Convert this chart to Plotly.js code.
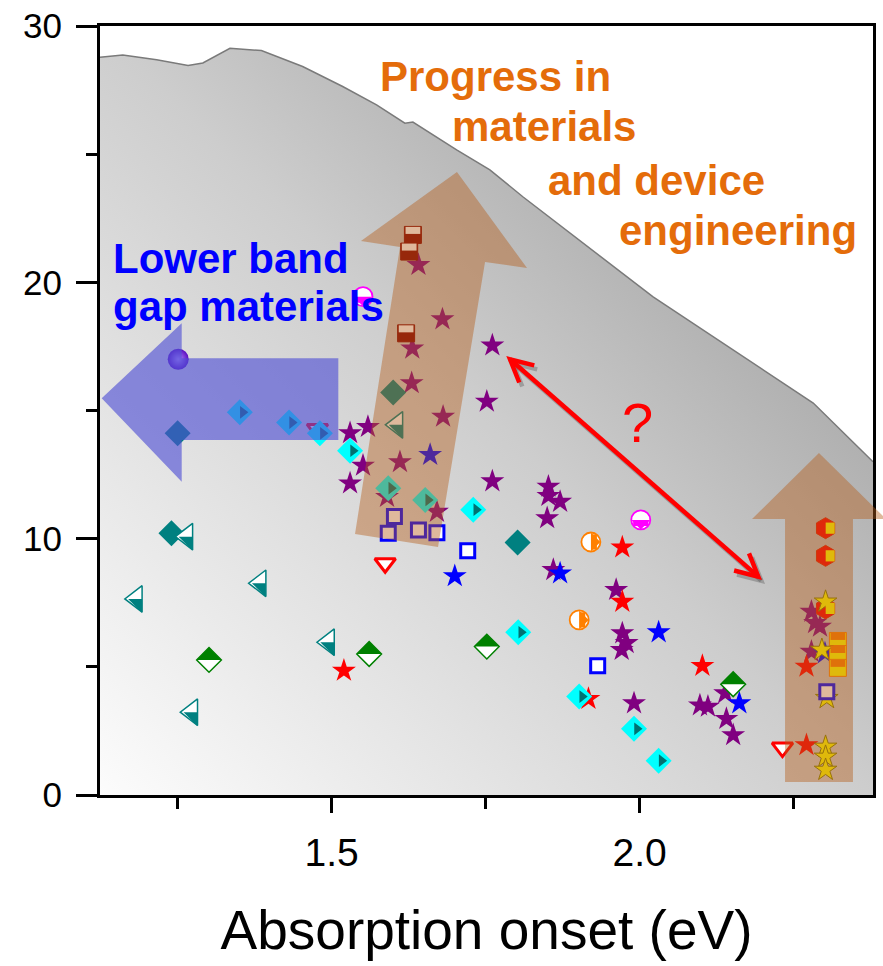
<!DOCTYPE html>
<html><head><meta charset="utf-8">
<script src="https://cdn.plot.ly/plotly-3.0.1.min.js"></script>
<style>html,body{margin:0;padding:0;background:#fff}#chart{width:883px;height:966px}</style>
</head><body><div id="chart"></div>
<script>
// ---------------- data ----------------
const boundaryX = [1.124,1.161,1.216,1.267,1.291,1.335,1.386,1.453,1.518,1.573,1.619,1.632,1.703,1.757,1.811,2.022,2.282,2.379];
const boundaryY = [28.78,28.87,28.68,28.46,28.56,29.13,29.04,28.42,27.64,26.92,26.21,26.25,25.17,24.39,23.33,19.43,15.29,13.0];

const purpleStarX = [1.641,1.680,1.631,1.630,1.681,1.611,1.671,1.590,1.530,1.559,1.551,1.530,1.761,1.752,1.761,1.852,1.852,1.871,1.850,1.860,1.962,1.972,1.979,1.971,1.991,2.098,2.111,2.139,2.141,2.152,2.279,2.285,2.293,2.279];
const purpleStarY = [20.68,18.56,17.42,16.07,14.76,12.99,11.05,11.63,14.12,14.36,12.85,12.16,17.54,15.35,12.24,12.03,11.67,11.44,10.80,8.78,8.00,6.31,5.93,5.66,3.58,3.50,3.45,3.97,2.97,2.34,7.15,6.71,6.57,5.59];
const redStarX = [1.520,1.972,1.972,2.102,1.917,2.271,2.271];
const redStarY = [4.85,9.66,7.54,5.04,3.75,5.01,1.95];
const blueStarX = [1.700,1.871,2.031,2.162,1.660,2.301];
const blueStarY = [8.54,8.65,6.35,3.58,13.27,5.53];
const yellowStarX = [2.302,2.296,2.304,2.302,2.302,2.302];
const yellowStarY = [7.54,5.66,3.78,1.88,1.49,0.98];
const tealDiamondX = [1.240,1.250,1.802,1.600];
const tealDiamondY = [10.21,14.11,9.85,15.70];
const cyanDiamondX = [1.351,1.431,1.481,1.530,1.592,1.652,1.730,1.803,1.902,1.991,2.031];
const cyanDiamondY = [14.93,14.53,14.11,13.43,11.97,11.51,11.13,6.35,3.84,2.58,1.34];
const greenHalfDiamondX = [1.301,1.561,1.752,2.152];
const greenHalfDiamondY = [5.27,5.50,5.79,4.32];
const tealHalfTriangleX = [1.265,1.183,1.384,1.273,1.495,1.606];
const tealHalfTriangleY = [10.08,7.65,8.26,3.23,5.96,14.44];
const blueSquareX = [1.721,1.932,1.602,1.592,1.641,1.671,2.304];
const blueSquareY = [9.53,5.04,10.86,10.21,10.34,10.23,4.03];
const redTriangleX = [1.587,2.232,1.477];
const redTriangleY = [9.04,1.85,14.28];
const orangeHalfCircleX = [1.921,1.902];
const orangeHalfCircleY = [9.87,6.83];
const magentaHalfCircleX = [2.002,1.551];
const magentaHalfCircleY = [10.73,19.44];
const sphereX = [1.251];
const sphereY = [17.00];
const maroonHalfSquareX = [1.632,1.626,1.621];
const maroonHalfSquareY = [21.85,21.20,18.01];
const hexagonX = [2.302,2.302,2.302];
const hexagonY = [10.41,9.33,7.28];
const orangeBarX = [2.322,2.322,2.322];
const orangeBarY = [6.01,5.50,4.96];

const xTickVals = [1.5, 2.0];
const xTickText = ['1.5', '2.0'];
const yTickVals = [0, 10, 20, 30];
const yTickText = ['0', '10', '20', '30'];

// ---------------- geometry / style ----------------
const X_RANGE = [1.124, 2.379], Y_RANGE = [0, 30];
const M = {l:100, r:10, t:26, b:171};
const PW = 883 - M.l - M.r, PH = 966 - M.t - M.b;
const pxX = PW / (X_RANGE[1]-X_RANGE[0]), pxY = PH / (Y_RANGE[1]-Y_RANGE[0]);

const layout = {
  width:883, height:966, margin:M, showlegend:false,
  paper_bgcolor:'white', plot_bgcolor:'white',
  xaxis:{range:X_RANGE, tickmode:'array', tickvals:xTickVals, ticktext:xTickText, automargin:false,
    ticks:'outside', ticklen:15, tickwidth:3, tickcolor:'black',
    minor:{tickvals:[1.25,1.75,2.25], ticks:'outside', ticklen:11, tickwidth:3, tickcolor:'black', showgrid:false},
    showline:true, linewidth:3, linecolor:'black', mirror:true, showgrid:false, zeroline:false,
    tickfont:{family:'"Liberation Sans", Arial', size:39, color:'black'},
    ticklabelstandoff:6,
    title:{text:'Absorption onset (eV)', font:{family:'"Liberation Sans", Arial', size:55, color:'black'}, standoff:38}},
  yaxis:{range:Y_RANGE, tickmode:'array', tickvals:yTickVals, ticktext:yTickText, automargin:false,
    ticks:'outside', ticklen:21, tickwidth:3, tickcolor:'black',
    minor:{tickvals:[5,15,25], ticks:'outside', ticklen:11, tickwidth:3, tickcolor:'black', showgrid:false},
    showline:true, linewidth:3, linecolor:'black', mirror:true, showgrid:false, zeroline:false,
    tickfont:{family:'"Liberation Sans", Arial', size:35, color:'black'}, ticklabelstandoff:7},
  shapes:[], annotations:[], images:[]
};

// gradient background of the plot area
const gsvg = "<svg xmlns='http://www.w3.org/2000/svg' width='773' height='769' viewBox='0 0 773 769' preserveAspectRatio='none'>"+
  "<defs><linearGradient id='g' x1='0' y1='1' x2='1' y2='0'><stop offset='0' stop-color='#fcfcfc'/><stop offset='0.5' stop-color='#cdcdcd'/><stop offset='1' stop-color='#8c8c8c'/></linearGradient></defs>"+
  "<rect width='773' height='769' fill='url(#g)'/></svg>";
layout.images.push({source:'data:image/svg+xml;base64,'+btoa(gsvg), xref:'paper', yref:'paper', x:0, y:1, sizex:1, sizey:1, sizing:'stretch', layer:'below'});

// pixel-offset overlay axes used to compose two-tone markers
const offsets = {tri:[3,0], halfTri:[1.08,4.67], halfDia:[0,-4.12], topBar:[0,-4.5], hexHalf:[4.6,0], halfDown:[0,3.17], halfRight:[3.17,0], ring:[0,0]};
const off = {}; let n = 2;
for (const k in offsets) {
  const [dx,dy] = offsets[k];
  layout['xaxis'+n] = {overlaying:'x', range:[X_RANGE[0]-dx/pxX, X_RANGE[1]-dx/pxX], visible:false, fixedrange:true};
  layout['yaxis'+n] = {overlaying:'y', range:[Y_RANGE[0]+dy/pxY, Y_RANGE[1]+dy/pxY], visible:false, fixedrange:true};
  off[k] = {xaxis:'x'+n, yaxis:'y'+n}; n++;
}

const traces = [];
const mk = (x,y,marker,extra) => Object.assign({type:'scatter', mode:'markers', x:x, y:y, marker:marker, hoverinfo:'skip', cliponaxis:false}, extra||{});

// white region above the boundary curve
traces.push({type:'scatter', mode:'lines', x:boundaryX.concat([X_RANGE[1], X_RANGE[0]]), y:boundaryY.concat([Y_RANGE[1], Y_RANGE[1]]),
  fill:'toself', fillcolor:'white', line:{width:0}, hoverinfo:'skip'});
traces.push({type:'scatter', mode:'lines', x:boundaryX, y:boundaryY, line:{color:'#7a7a7a', width:1.5}, hoverinfo:'skip'});

// base markers
traces.push(mk(purpleStarX, purpleStarY, {symbol:'star', size:18, color:'#800080', line:{width:0}}));
traces.push(mk(redStarX, redStarY, {symbol:'star', size:18, color:'#ff0000', line:{width:0}}));
traces.push(mk(blueStarX, blueStarY, {symbol:'star', size:18, color:'#0000ff', line:{width:0}}));
traces.push(mk(redTriangleX, redTriangleY, {symbol:'triangle-down', size:18, color:'white', line:{color:'#ff0000', width:3}}));
traces.push(mk(tealDiamondX, tealDiamondY, {symbol:'diamond', size:20, color:'#008080', line:{width:0}}));
traces.push(mk(cyanDiamondX, cyanDiamondY, {symbol:'diamond', size:20, color:'#00ffff', line:{width:0}}));
traces.push(mk(tealHalfTriangleX, tealHalfTriangleY, {symbol:'triangle-left', size:23, color:'white', line:{color:'#008080', width:1.5}}));
traces.push(mk(greenHalfDiamondX, greenHalfDiamondY, {symbol:'diamond', size:19, color:'white', line:{color:'#008000', width:1.5}}));
traces.push(mk(orangeBarX, orangeBarY, {symbol:'square', size:17, color:'#ffff00', line:{color:'#ff8000', width:1}}));
traces.push(mk(hexagonX, hexagonY, {symbol:'hexagon', size:21, color:'#ff0000', line:{color:'#e02000', width:1}}));
traces.push(mk(yellowStarX, yellowStarY, {symbol:'star', size:17, color:'#ffff00', line:{color:'#808000', width:1}}));
traces.push(mk(blueSquareX, blueSquareY, {symbol:'square', size:14, color:'white', line:{color:'#0000ff', width:3}}));
traces.push(mk(maroonHalfSquareX, maroonHalfSquareY, {symbol:'square', size:17, color:'#800000', line:{color:'#800000', width:1}}));
traces.push(mk(orangeHalfCircleX, orangeHalfCircleY, {symbol:'circle', size:19, color:'white', line:{width:0}}));
traces.push(mk(magentaHalfCircleX, magentaHalfCircleY, {symbol:'circle', size:19, color:'white', line:{width:0}}));
traces.push(mk(sphereX, sphereY, {symbol:'circle', size:21, color:'#5a0cc0', gradient:{type:'radial', color:'#b48cff'}, line:{width:0}}));

// second tone of the two-tone markers (offset overlays)
traces.push(mk(cyanDiamondX, cyanDiamondY, {symbol:'triangle-right', size:11, color:'#007272', line:{width:0}}, off.tri));
traces.push(mk(tealHalfTriangleX, tealHalfTriangleY, {symbol:'triangle-ne', size:15.5, color:'#008080', line:{width:0}}, off.halfTri));
traces.push(mk(greenHalfDiamondX, greenHalfDiamondY, {symbol:'triangle-ne', angle:-45, size:19.4, color:'#008000', line:{width:0}}, off.halfDia));
traces.push(mk(maroonHalfSquareX, maroonHalfSquareY, {symbol:'line-ew', size:10.5, color:'white', line:{color:'white', width:7}}, off.topBar));
traces.push(mk(orangeBarX, orangeBarY, {symbol:'line-ew', size:10.5, color:'#ff8000', line:{color:'#ff8000', width:7}}, off.topBar));
traces.push(mk(hexagonX, hexagonY, {symbol:'line-ns', size:8, color:'#ffff00', line:{color:'#ffff00', width:9}}, off.hexHalf));
traces.push(mk(magentaHalfCircleX, magentaHalfCircleY, {symbol:'line-ew', size:10.9, color:'#ff00ff', line:{color:'#ff00ff', width:5.7}}, off.halfDown));
traces.push(mk(magentaHalfCircleX, magentaHalfCircleY, {symbol:'triangle-ne', angle:135, size:14.9, color:'#ff00ff', line:{width:0}}, off.halfDown));
traces.push(mk(orangeHalfCircleX, orangeHalfCircleY, {symbol:'line-ns', size:10.9, color:'#ff8000', line:{color:'#ff8000', width:5.7}}, off.halfRight));
traces.push(mk(orangeHalfCircleX, orangeHalfCircleY, {symbol:'triangle-ne', angle:45, size:14.9, color:'#ff8000', line:{width:0}}, off.halfRight));
traces.push(mk(magentaHalfCircleX, magentaHalfCircleY, {symbol:'circle-open', size:19, color:'#ff00ff', line:{color:'#ff00ff', width:1.8}}, off.ring));
traces.push(mk(orangeHalfCircleX, orangeHalfCircleY, {symbol:'circle-open', size:19, color:'#ff8000', line:{color:'#ff8000', width:1.8}}, off.ring));

// ---------------- annotation shapes (pixel positions -> paper) ----------------
const P = (px,py) => [(px-M.l)/PW, (M.t+PH-py)/PH];
const pathOf = (pts, close) => pts.map((p,i)=>{const q=P(p[0],p[1]); return (i?'L':'M')+q[0].toFixed(4)+','+q[1].toFixed(4);}).join('')+(close?'Z':'');

const brownFill = 'rgba(180,93,25,0.43)';
const blueFill = 'rgba(79,79,212,0.63)';
const arrowUp1 = [[457,172],[527,268],[485,262],[438,547],[355,534],[400,247],[361,241]];
const arrowUp2 = [[819,453],[886,519],[853,519],[853,782],[785,782],[785,519],[752,519]];
const arrowLeft = [[101.7,398.3],[181.7,323.3],[181.7,358.3],[338.3,358.3],[338.3,440],[181.7,440],[181.7,481.7]];
[[arrowUp1,brownFill],[arrowUp2,brownFill],[arrowLeft,blueFill]].forEach(([pts,c])=>{
  layout.shapes.push({type:'path', xref:'paper', yref:'paper', path:pathOf(pts,true), fillcolor:c, line:{width:0}, layer:'above'});
});

// red double-headed arrow
const tA = [510,359.3], tB = [758.3,576.7];
function chevron(tip, other, ang, len){
  const dx = other[0]-tip[0], dy = other[1]-tip[1], L = Math.hypot(dx,dy);
  const ux = dx/L, uy = dy/L, a = ang*Math.PI/180;
  const w1 = [tip[0]+len*(ux*Math.cos(a)-uy*Math.sin(a)), tip[1]+len*(ux*Math.sin(a)+uy*Math.cos(a))];
  const w2 = [tip[0]+len*(ux*Math.cos(-a)-uy*Math.sin(-a)), tip[1]+len*(ux*Math.sin(-a)+uy*Math.cos(-a))];
  return [w1, tip, w2];
}
const shift = (pts,dx,dy) => pts.map(p=>[p[0]+dx,p[1]+dy]);
[[3,4,'rgba(60,60,60,0.30)'],[0,0,'#ff0000']].forEach(([dx,dy,c])=>{
  layout.shapes.push({type:'path', xref:'paper', yref:'paper', path:pathOf(shift([tA,tB],dx,dy)), line:{color:c, width:4.5}, layer:'above'});
  layout.shapes.push({type:'path', xref:'paper', yref:'paper', path:pathOf(shift(chevron(tA,tB,27,25),dx,dy)), line:{color:c, width:4.5}, layer:'above'});
  layout.shapes.push({type:'path', xref:'paper', yref:'paper', path:pathOf(shift(chevron(tB,tA,27,25),dx,dy)), line:{color:c, width:4.5}, layer:'above'});
});

// texts
const bold = (t) => '<b>'+t+'</b>';
const txt = (t, px, py, size, color, anchor) => {
  const q = P(px,py);
  layout.annotations.push({text:t, xref:'paper', yref:'paper', x:q[0], y:q[1], xanchor:anchor||'left', yanchor:'middle', showarrow:false,
    font:{family:'"Liberation Sans", Arial', size:size, color:color}});
};
txt(bold('Lower band'), 111, 258, 42, '#0000ff');
txt(bold('gap materials'), 111, 306, 42, '#0000ff');
txt(bold('Progress in'), 378, 77, 42, '#e46c0a');
txt(bold('materials'), 450, 127, 42, '#e46c0a');
txt(bold('and device'), 546, 180, 42, '#e46c0a');
txt(bold('engineering'), 617, 230, 42, '#e46c0a');
txt('?', 637, 422, 56, '#ff0000', 'center');

Plotly.newPlot('chart', traces, layout, {staticPlot:true, displayModeBar:false});
</script></body></html>
